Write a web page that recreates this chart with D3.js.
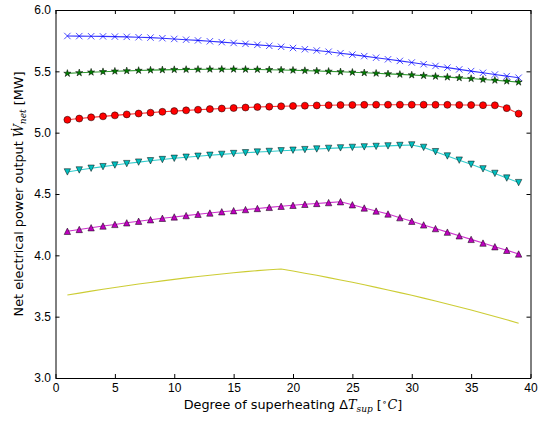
<!DOCTYPE html>
<html>
<head>
<meta charset="utf-8">
<script src="https://cdn.jsdelivr.net/npm/d3@7"></script>
<style>
  body { margin: 0; background: #fff; }
  svg { display: block; font-family: "DejaVu Sans", sans-serif; }
  .axis text { font-size: 12px; fill: #000; }
  .axis path, .axis line { stroke: #000; stroke-width: 1; }
  .math { font-family: "DejaVu Serif", serif; font-style: italic; }
</style>
</head>
<body>
<svg id="chart" width="539" height="423"></svg>
<script>
// degree of superheating (x) shared by all series
const superheat = [1,2,3,4,5,6,7,8,9,10,11,12,13,14,15,16,17,18,19,20,
  21,22,23,24,25,26,27,28,29,30,31,32,33,34,35,36,37,38,39];

const blueX = [5.788,5.787,5.786,5.785,5.783,5.781,5.778,5.775,5.770,5.764,
  5.758,5.752,5.745,5.738,5.731,5.724,5.716,5.708,5.700,5.690,
  5.680,5.670,5.660,5.648,5.636,5.624,5.611,5.598,5.585,5.572,
  5.558,5.544,5.530,5.516,5.502,5.488,5.474,5.461,5.448];
const greenStar = [5.483,5.488,5.493,5.497,5.501,5.504,5.507,5.510,5.512,5.514,
  5.515,5.516,5.517,5.517,5.517,5.516,5.515,5.513,5.511,5.509,
  5.506,5.503,5.500,5.496,5.492,5.488,5.484,5.479,5.475,5.470,
  5.465,5.459,5.453,5.447,5.441,5.434,5.427,5.420,5.412];
const redCircle = [5.105,5.115,5.125,5.133,5.141,5.149,5.156,5.163,5.170,5.176,
  5.182,5.187,5.192,5.197,5.201,5.205,5.209,5.212,5.215,5.218,
  5.220,5.222,5.224,5.225,5.226,5.227,5.228,5.228,5.228,5.228,
  5.228,5.227,5.227,5.226,5.225,5.224,5.223,5.200,5.155];
const cyanTri = [4.680,4.696,4.710,4.723,4.736,4.748,4.760,4.771,4.781,4.791,
  4.800,4.808,4.816,4.823,4.830,4.836,4.842,4.847,4.852,4.857,
  4.862,4.867,4.872,4.876,4.880,4.884,4.888,4.892,4.896,4.900,
  4.880,4.845,4.810,4.776,4.742,4.705,4.668,4.630,4.593];
const magentaTri = [4.196,4.211,4.225,4.239,4.252,4.265,4.278,4.290,4.302,4.313,
  4.324,4.335,4.345,4.355,4.364,4.373,4.382,4.391,4.400,4.408,
  4.416,4.423,4.430,4.437,4.412,4.386,4.361,4.337,4.307,4.278,
  4.248,4.218,4.189,4.159,4.130,4.100,4.070,4.041,4.011];
const yellowLine = [3.676,3.692,3.708,3.723,3.738,3.752,3.766,3.779,3.792,3.804,
  3.816,3.827,3.838,3.848,3.858,3.867,3.875,3.882,3.888,3.872,
  3.854,3.837,3.818,3.799,3.780,3.760,3.739,3.718,3.696,3.674,
  3.651,3.628,3.604,3.579,3.554,3.528,3.502,3.475,3.447];

const xTicks = [0,5,10,15,20,25,30,35,40];
const yTicks = [3.0,3.5,4.0,4.5,5.0,5.5,6.0];

// series: values, colour, marker
const series = [
  {values: blueX, color: "#0000ff", marker: "x"},
  {values: greenStar, color: "#008000", marker: "star"},
  {values: redCircle, color: "#ff0000", marker: "circle"},
  {values: cyanTri, color: "#00bfbf", marker: "down"},
  {values: magentaTri, color: "#bf00bf", marker: "up"},
  {values: yellowLine, color: "#bfbf00", marker: null}
];

const svg = d3.select("#chart");
const mLeft = 55.5, mRight = 530.5, mTop = 10, mBottom = 378;

const x = d3.scaleLinear().domain([0, 40]).range([mLeft, mRight]);
const y = d3.scaleLinear().domain([3, 6]).range([mBottom, mTop]);

// axes, ticks pointing inwards on all four sides
svg.append("g").attr("class", "axis")
    .attr("transform", "translate(0," + mBottom + ")")
    .call(d3.axisBottom(x).tickValues(xTicks).tickFormat(d3.format("d"))
        .tickSizeInner(-4).tickSizeOuter(0).tickPadding(5.5));
svg.append("g").attr("class", "axis")
    .attr("transform", "translate(0," + mTop + ")")
    .call(d3.axisTop(x).tickValues(xTicks).tickFormat("")
        .tickSizeInner(-4).tickSizeOuter(0));
svg.append("g").attr("class", "axis")
    .attr("transform", "translate(" + mLeft + ",0)")
    .call(d3.axisLeft(y).tickValues(yTicks).tickFormat(d3.format(".1f"))
        .tickSizeInner(-4).tickSizeOuter(0).tickPadding(4.5));
svg.append("g").attr("class", "axis")
    .attr("transform", "translate(" + mRight + ",0)")
    .call(d3.axisRight(y).tickValues(yTicks).tickFormat("")
        .tickSizeInner(-4).tickSizeOuter(0));
svg.selectAll(".axis .domain").attr("stroke", "#000");

const line = d3.line().x((d, i) => x(superheat[i])).y(d => y(d));

const plot = svg.append("g");
const ms = 3.2; // half marker size

function starPath(r) {
    let p = "";
    for (let k = 0; k < 10; k++) {
        const rr = k % 2 === 0 ? r : r * 0.382;
        const a = -Math.PI / 2 + k * Math.PI / 5;
        p += (k === 0 ? "M" : "L") + (rr * Math.cos(a)).toFixed(2) + "," + (rr * Math.sin(a)).toFixed(2);
    }
    return p + "Z";
}

series.forEach(s => {
    plot.append("path")
        .attr("d", line(s.values))
        .attr("fill", "none")
        .attr("stroke", s.color)
        .attr("stroke-opacity", 0.8)
        .attr("stroke-width", 1.1);

    if (!s.marker) return;
    const g = plot.selectAll(null)
        .data(s.values)
        .enter().append("g")
        .attr("transform", (d, i) => "translate(" + x(superheat[i]) + "," + y(d) + ")");

    if (s.marker === "circle") {
        g.append("circle").attr("r", ms + 0.3)
            .attr("fill", s.color).attr("stroke", "#000").attr("stroke-width", 0.5);
    } else if (s.marker === "x") {
        g.append("path").attr("d", "M" + -ms + "," + -ms + "L" + ms + "," + ms + "M" + -ms + "," + ms + "L" + ms + "," + -ms)
            .attr("stroke", s.color).attr("stroke-width", 0.7).attr("fill", "none");
    } else if (s.marker === "star") {
        g.append("path").attr("d", starPath(ms + 0.6))
            .attr("fill", s.color).attr("stroke", "#000").attr("stroke-width", 0.5);
    } else {
        const dir = s.marker === "up" ? 1 : -1;
        g.append("path")
            .attr("d", "M0," + (-ms * dir) + "L" + ms + "," + (ms * dir) + "L" + -ms + "," + (ms * dir) + "Z")
            .attr("fill", s.color).attr("stroke", "#000").attr("stroke-width", 0.5);
    }
});

// axis labels
const xl = svg.append("text")
    .attr("x", (mLeft + mRight) / 2).attr("y", 409)
    .attr("text-anchor", "middle").attr("font-size", 12.8);
xl.append("tspan").text("Degree of superheating ");
xl.append("tspan").text("Δ");
xl.append("tspan").attr("class", "math").text("T");
xl.append("tspan").attr("class", "math").attr("font-size", 9).attr("dy", 2.5).text("sup");
xl.append("tspan").attr("dy", -2.5).text(" [");
xl.append("tspan").attr("font-size", 9).attr("dy", -4.5).text("∘");
xl.append("tspan").attr("class", "math").attr("dy", 4.5).text("C");
xl.append("tspan").text("]");

const yl = svg.append("text")
    .attr("transform", "translate(23," + (mTop + mBottom) / 2 + ") rotate(-90)")
    .attr("text-anchor", "middle").attr("font-size", 12.8);
yl.append("tspan").text("Net electrical power output ");
yl.append("tspan").attr("class", "math").text("Ẇ");
yl.append("tspan").attr("class", "math").attr("font-size", 9).attr("dy", 2.5).text("net");
yl.append("tspan").attr("dy", -2.5).text("  [MW]");
</script>
</body>
</html>
